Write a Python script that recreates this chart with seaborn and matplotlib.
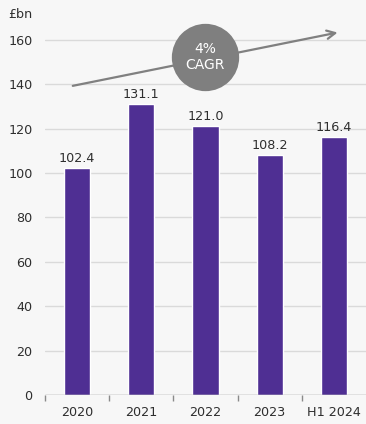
import matplotlib
matplotlib.use("Agg")
import matplotlib.pyplot as plt
import seaborn as sns
import pandas as pd

categories = ["2020", "2021", "2022", "2023", "H1 2024"]
values = [102.4, 131.1, 121.0, 108.2, 116.4]
labels = ["102.4", "131.1", "121.0", "108.2", "116.4"]
yticks = [0, 20, 40, 60, 80, 100, 120, 140, 160]

sns.set_theme(style="white")
plt.rcParams['font.family'] = ['DejaVu Sans']

bg = "#f7f7f7"
txt = "#2e2e2e"
fs = 9.2
fig = plt.figure(figsize=(3.66, 4.24), dpi=100, facecolor=bg)
ax = fig.add_axes([45/366, 29/424, 1 - 45/366, (395-22)/424])
ax.set_facecolor(bg)

df = pd.DataFrame({"cat": categories, "val": values})
sns.barplot(data=df, x="cat", y="val", color="#4f2f93", saturation=1, width=0.41, ax=ax, zorder=3)

ax.set_xlim(-0.5, 4.5)
ax.set_ylim(0, 168)
ax.set_yticks(yticks)
ax.set_yticklabels([str(t) for t in yticks])
for t in yticks[1:]:
    ax.axhline(t, color="#dadada", lw=1, zorder=1)
ax.axhline(0, color="#8a8a8a", lw=1, zorder=4)

for s in ax.spines.values():
    s.set_visible(False)
ax.set_xlabel("")
ax.set_ylabel("")
ax.tick_params(axis="y", left=False, length=0, labelsize=fs, colors=txt, pad=9)
ax.tick_params(axis="x", which="major", bottom=False, length=0, labelsize=fs, colors=txt, pad=8)
ax.set_xticks([i + 0.5 for i in range(-1, 4)], minor=True)
ax.tick_params(axis="x", which="minor", bottom=True, length=4, color="#8a8a8a", width=1, direction="out")

for i, (v, l) in enumerate(zip(values, labels)):
    ax.text(i, v + 1.3, l, ha="center", va="bottom", fontsize=fs, color=txt, zorder=5)

fig.text(8/366, 1 - 14/424, "£bn", fontsize=fs, color=txt, ha="left", va="center")

ax.annotate("", xy=(4.1, 163.5), xytext=(-0.11, 139),
            arrowprops=dict(arrowstyle="->", color="#808080", lw=1.6, mutation_scale=15),
            zorder=5, annotation_clip=False)
ax.scatter([1.99], [152.2], s=2350, color="#7f7f7f", zorder=6, linewidths=0, clip_on=False)
ax.text(1.99, 152.2, "4%\nCAGR", ha="center", va="center", color="white", fontsize=10,
        linespacing=1.25, zorder=7)

fig.savefig("out.png", dpi=100, facecolor=bg)
